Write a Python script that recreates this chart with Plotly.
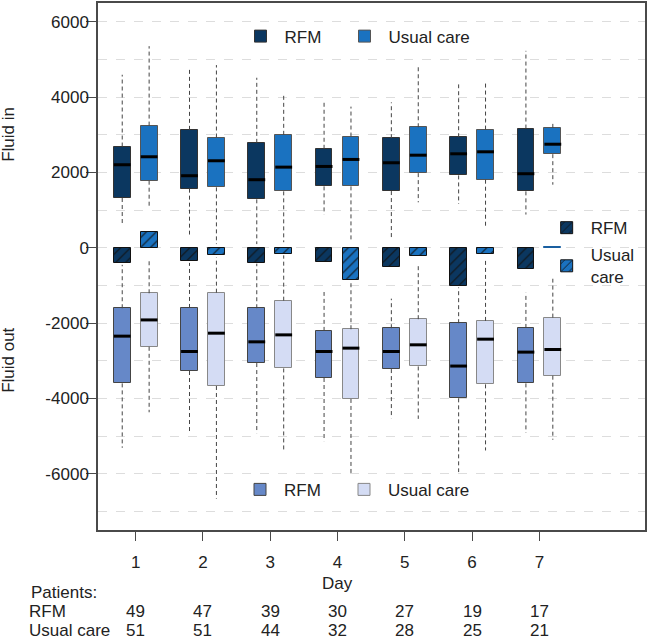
import plotly.graph_objects as go

days = [1, 2, 3, 4, 5, 6, 7]
day_labels = ["1", "2", "3", "4", "5", "6", "7"]

# Fluid in: RFM
in_rfm_low = [635, 354, 100, 884, 222, 1164, 884]
in_rfm_q1 = [1323, 1571, 1288, 1632, 1508, 1923, 1500]
in_rfm_med = [2206, 1915, 1809, 2161, 2259, 2497, 1968]
in_rfm_q3 = [2690, 3132, 2788, 2630, 2910, 2937, 3167]
in_rfm_high = [4595, 4788, 4516, 3907, 3862, 4339, 5230]

# Fluid in: Usual care
in_uc_low = [1058, 100, 150, 200, 1209, 529, 1677]
in_uc_q1 = [1783, 1606, 1500, 1632, 1984, 1809, 2487]
in_uc_med = [2418, 2312, 2143, 2347, 2460, 2550, 2751]
in_uc_q3 = [3246, 2929, 3000, 2955, 3201, 3140, 3185]
in_uc_high = [5354, 4852, 4093, 3749, 4833, 4365, 3333]

# Net balance
net_rfm = [-413, -360, -397, -370, -511, -1013, -556]
net_uc = [423, -202, -159, -854, -212, -159, 12]

# Fluid out: RFM
out_rfm_low = [-5307, -4937, -4921, -5132, -4524, -5952, -4910]
out_rfm_q1 = [-3598, -3270, -3058, -3455, -3218, -3995, -3598]
out_rfm_med = [-2344, -2751, -2495, -2751, -2751, -3138, -2768]
out_rfm_q3 = [-1603, -1595, -1603, -2204, -2133, -2000, -2125]
out_rfm_high = [-450, -400, -420, -1172, -1349, -1050, -1190]

# Fluid out: Usual care
out_uc_low = [-4365, -6656, -5405, -6040, -4540, -5379, -5095]
out_uc_q1 = [-2627, -3667, -3201, -4011, -3148, -3624, -3394]
out_uc_med = [-1913, -2265, -2310, -2662, -2574, -2424, -2698]
out_uc_q3 = [-1206, -1190, -1402, -2160, -1894, -1939, -1852]
out_uc_high = [-307, -250, -200, -900, -484, -333, -820]

patients_rfm = [49, 47, 39, 30, 27, 19, 17]
patients_uc = [51, 51, 44, 32, 28, 25, 21]

C_IN_RFM = "#0b3760"
C_IN_UC = "#1a72c0"
C_OUT_RFM = "#6688c8"
C_OUT_UC = "#d4dcf4"

FONT = "Liberation Sans, Arial, sans-serif"
FS = 17
OFF = 0.2
BW = 0.25
PAD = "\u00a0\u00a0\u00a0"

x_rfm = [d - OFF for d in days]
x_uc = [d + OFF for d in days]

fig = go.Figure()


def whiskers(xs, lo, q1, q3, hi):
    xx, yy = [], []
    for x, a, b, c, d in zip(xs, lo, q1, q3, hi):
        xx += [x, x, None, x, x, None]
        yy += [b, a, None, c, d, None]
    return xx, yy


def medians(xs, med):
    xx, yy = [], []
    for x, m in zip(xs, med):
        xx += [x - BW / 2, x + BW / 2, None]
        yy += [m, m, None]
    return xx, yy


groups = [
    (x_rfm, in_rfm_low, in_rfm_q1, in_rfm_med, in_rfm_q3, in_rfm_high, C_IN_RFM, "#333333", "RFM" + PAD, "legend"),
    (x_uc, in_uc_low, in_uc_q1, in_uc_med, in_uc_q3, in_uc_high, C_IN_UC, "#555555", "Usual care", "legend"),
    (x_rfm, out_rfm_low, out_rfm_q1, out_rfm_med, out_rfm_q3, out_rfm_high, C_OUT_RFM, "#444444", "RFM" + PAD, "legend3"),
    (x_uc, out_uc_low, out_uc_q1, out_uc_med, out_uc_q3, out_uc_high, C_OUT_UC, "#888888", "Usual care", "legend3"),
]

# boxes (bars are drawn below scatter lines)
for xs, lo, q1, med, q3, hi, col, lc, name, lg in groups:
    fig.add_trace(go.Bar(x=xs, y=[c - b for b, c in zip(q1, q3)], base=q1, width=BW,
                         marker=dict(color=col, line=dict(color=lc, width=1)),
                         name=name, legend=lg))

# net balance bars (a near-zero bar shows as a flat line in the fill colour)
for xs, vals, col, name, grp in [(x_rfm, net_rfm, C_IN_RFM, "RFM", "n1"),
                                 (x_uc, net_uc, C_IN_UC, "Usual<br>care", "n2")]:
    edge = ["#1a5fa0" if abs(v) < 50 else "#111111" for v in vals]
    fig.add_trace(go.Bar(x=xs, y=vals, base=0, width=BW,
                         marker=dict(color=col, line=dict(color=edge, width=1),
                                     pattern=dict(shape="/", fgcolor="#111111", bgcolor=col,
                                                  size=7, solidity=0.15, fillmode="replace")),
                         name=name, legend="legend2", legendgroup=grp))

# whiskers
wx, wy = [], []
for xs, lo, q1, med, q3, hi, col, lc, name, lg in groups:
    a, b = whiskers(xs, lo, q1, q3, hi)
    wx += a
    wy += b
fig.add_trace(go.Scatter(x=wx, y=wy, mode="lines", showlegend=False, hoverinfo="skip",
                         line=dict(color="#444444", width=1, dash="4px,3px")))

# medians
mx, my = [], []
for xs, lo, q1, med, q3, hi, col, lc, name, lg in groups:
    a, b = medians(xs, med)
    mx += a
    my += b
fig.add_trace(go.Scatter(x=mx, y=my, mode="lines", showlegend=False, hoverinfo="skip",
                         line=dict(color="black", width=3)))

ann = []
ann.append(dict(text="Fluid in", xref="paper", x=0, xshift=-89, yref="y", y=3000,
                textangle=-90, showarrow=False, xanchor="center", yanchor="middle"))
ann.append(dict(text="Fluid out", xref="paper", x=0, xshift=-89, yref="y", y=-3000,
                textangle=-90, showarrow=False, xanchor="center", yanchor="middle"))
ann.append(dict(text="Day", xref="x", x=4, yref="paper", y=0, yshift=-53,
                showarrow=False, xanchor="center", yanchor="middle"))
ann.append(dict(text="Patients:", xref="paper", x=0, xshift=-69, yref="paper", y=0, yshift=-62,
                showarrow=False, xanchor="left", yanchor="middle"))
ann.append(dict(text="RFM", xref="paper", x=0, xshift=-71, yref="paper", y=0, yshift=-81,
                showarrow=False, xanchor="left", yanchor="middle"))
ann.append(dict(text="Usual care", xref="paper", x=0, xshift=-71, yref="paper", y=0, yshift=-100,
                showarrow=False, xanchor="left", yanchor="middle"))
for d, a, b in zip(days, patients_rfm, patients_uc):
    ann.append(dict(text=str(a), xref="x", x=d, yref="paper", y=0, yshift=-81,
                    showarrow=False, xanchor="center", yanchor="middle"))
    ann.append(dict(text=str(b), xref="x", x=d, yref="paper", y=0, yshift=-100,
                    showarrow=False, xanchor="center", yanchor="middle"))

ytick_vals = [-6000, -4000, -2000, 0, 2000, 4000, 6000]
ytick_text = ["-6000", "-4000", "-2000", "0", "2000", "4000", "6000"]
minor_vals = [-7000, -5000, -3000, -1000, 1000, 3000, 5000]

legend_font = dict(family=FONT, size=FS, color="#222222")
fig.update_layout(
    width=649, height=640, autosize=False,
    margin=dict(l=98, r=4, t=1, b=110),
    paper_bgcolor="white", plot_bgcolor="white",
    font=dict(family=FONT, size=FS, color="#222222"),
    barmode="overlay",
    bargap=0,
    annotations=ann,
    legend=dict(orientation="h", x=0.2532, y=0.9363, xanchor="left", yanchor="middle",
                bgcolor="rgba(0,0,0,0)", font=legend_font, itemwidth=38),
    legend2=dict(orientation="v", x=0.8129, y=0.607, xanchor="left", yanchor="top",
                 bgcolor="rgba(0,0,0,0)", font=legend_font, valign="middle",
                 tracegroupgap=2, itemwidth=38),
    legend3=dict(orientation="h", x=0.2523, y=0.0762, xanchor="left", yanchor="middle",
                 bgcolor="rgba(0,0,0,0)", font=legend_font, itemwidth=38),
)
fig.update_xaxes(range=[0.44, 8.57], tickvals=days, ticktext=day_labels,
                 showgrid=False, zeroline=False,
                 showline=True, mirror=True, linecolor="#4a4a4a", linewidth=1.5,
                 ticks="outside", ticklen=9, tickcolor="#4a4a4a", tickwidth=1.2,
                 ticklabelstandoff=7)
fig.update_yaxes(range=[-7490, 6500], tickvals=ytick_vals, ticktext=ytick_text,
                 showgrid=True, gridcolor="#dddddd", griddash="dash", gridwidth=1,
                 minor=dict(tickvals=minor_vals, showgrid=True, gridcolor="#dddddd",
                            griddash="dash", gridwidth=1, ticks=""),
                 zeroline=False,
                 showline=True, mirror=True, linecolor="#4a4a4a", linewidth=1.5,
                 ticks="outside", ticklen=10, tickcolor="#4a4a4a", tickwidth=1.2,
                 ticklabelstandoff=-6)

fig.write_html("out.html", config={"displayModeBar": False},
               post_script="document.body.style.margin='0px';")
